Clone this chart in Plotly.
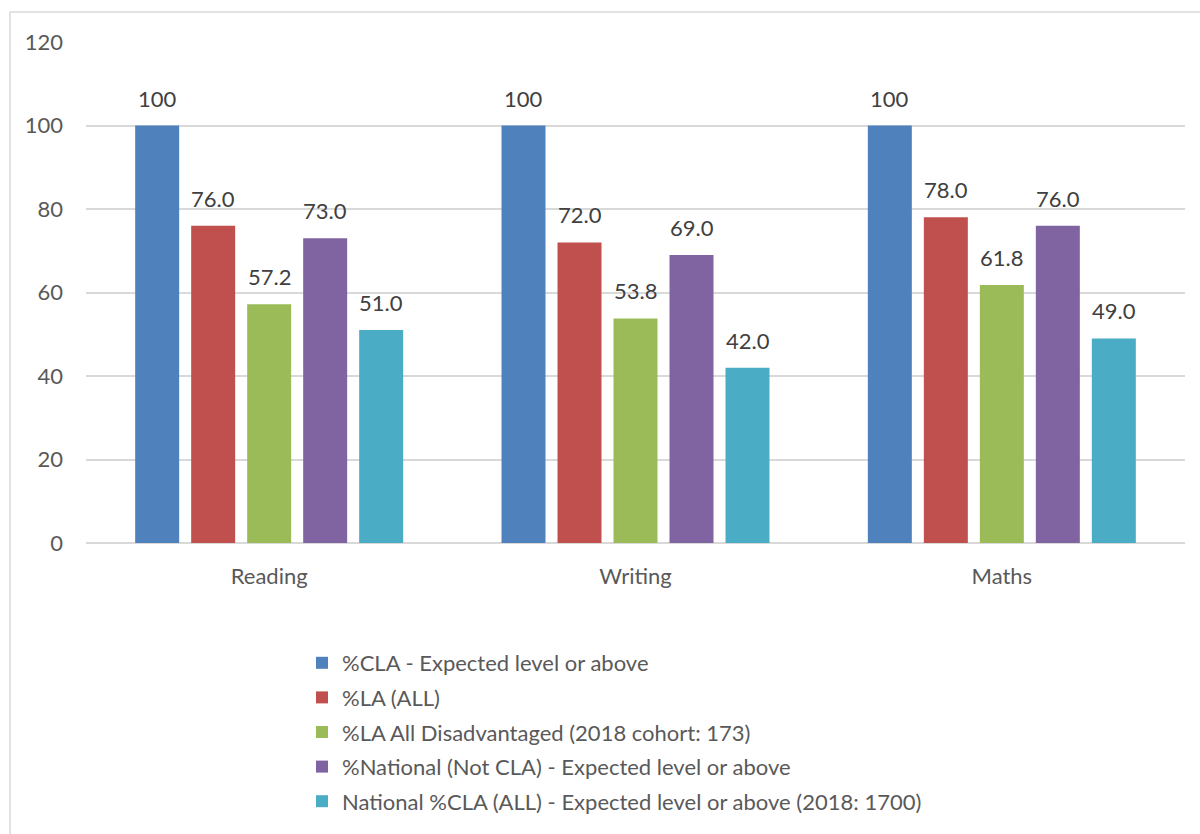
import plotly.graph_objects as go

subjects = ["Reading", "Writing", "Maths"]

series_names = [
    "%CLA - Expected level or above",
    "%LA (ALL)",
    "%LA All Disadvantaged (2018 cohort: 173)",
    "%National (Not CLA) - Expected level or above",
    "National %CLA (ALL) - Expected level or above (2018: 1700)",
]
cla_expected = [100, 100, 100]
la_all = [76.0, 72.0, 78.0]
la_disadvantaged = [57.2, 53.8, 61.8]
national_not_cla = [73.0, 69.0, 76.0]
national_cla_all = [51.0, 42.0, 49.0]

series_values = [cla_expected, la_all, la_disadvantaged, national_not_cla, national_cla_all]
series_colors = ["#4F81BD", "#C0504D", "#9BBB59", "#8064A2", "#4BACC6"]
label_formats = ["{:.0f}", "{:.1f}", "{:.1f}", "{:.1f}", "{:.1f}"]

FONT = "Lato, Open Sans, Liberation Sans, sans-serif"
FONT_SIZE = 22

# plot-area geometry (pixels)
PLOT_L, PLOT_R, PLOT_T, PLOT_B = 86, 1185, 42, 543
W, H = 1200, 834
cat_px = (PLOT_R - PLOT_L) / len(subjects)
slot_px = 56  # horizontal pitch of the bars inside a group
n_series = len(series_names)

fig = go.Figure()
for i, (name, vals, color) in enumerate(zip(series_names, series_values, series_colors)):
    fig.add_trace(go.Bar(
        name=name,
        legendgroup=f"g{i}",
        x=subjects,
        y=vals,
        marker=dict(color=color, line=dict(width=0)),
        hoverinfo="x+y+name",
    ))

# value labels above each bar
annotations = []
for i, (vals, fmt) in enumerate(zip(series_values, label_formats)):
    offset = (i - (n_series - 1) / 2) * slot_px
    for subj, v in zip(subjects, vals):
        annotations.append(dict(
            x=subj, y=v, xref="x", yref="y",
            text=fmt.format(v),
            showarrow=False,
            xshift=offset,
            yanchor="bottom",
            yshift=12,
            font=dict(family=FONT, size=FONT_SIZE, color="#404040"),
        ))

fig.update_layout(
    width=W,
    height=H,
    margin=dict(l=PLOT_L, r=W - PLOT_R, t=PLOT_T, b=H - PLOT_B, autoexpand=False),
    paper_bgcolor="white",
    plot_bgcolor="white",
    barmode="group",
    bargap=1 - slot_px * n_series / cat_px,
    bargroupgap=12 / slot_px,
    font=dict(family=FONT, size=FONT_SIZE, color="#595959"),
    showlegend=True,
    legend=dict(
        orientation="v",
        xref="container",
        yref="container",
        x=302 / W,
        xanchor="left",
        y=1 - 642 / H,
        yanchor="top",
        font=dict(family=FONT, size=FONT_SIZE, color="#595959"),
        itemwidth=30,
        tracegroupgap=3,
        bgcolor="rgba(0,0,0,0)",
    ),
    xaxis=dict(
        showgrid=False,
        showline=False,
        ticks="",
        ticklabelstandoff=18,
        tickfont=dict(family=FONT, size=FONT_SIZE, color="#595959"),
    ),
    yaxis=dict(
        range=[0, 120],
        dtick=20,
        showgrid=True,
        gridcolor="#D9D9D9",
        gridwidth=1.5,
        zeroline=True,
        zerolinecolor="#D9D9D9",
        zerolinewidth=1.5,
        showline=False,
        ticks="",
        ticklabelstandoff=22,
        tickfont=dict(family=FONT, size=FONT_SIZE, color="#595959"),
    ),
    annotations=annotations,
    shapes=[
        dict(
            type="rect",
            xref="paper",
            yref="paper",
            x0=(10 - PLOT_L) / (PLOT_R - PLOT_L),
            x1=(1210 - PLOT_L) / (PLOT_R - PLOT_L),
            y0=(PLOT_B - 850) / (PLOT_B - PLOT_T),
            y1=(PLOT_B - 12) / (PLOT_B - PLOT_T),
            line=dict(color="#D9D9D9", width=1.5),
            fillcolor="rgba(0,0,0,0)",
            layer="below",
        )
    ],
)

fig.write_html("out.html")
